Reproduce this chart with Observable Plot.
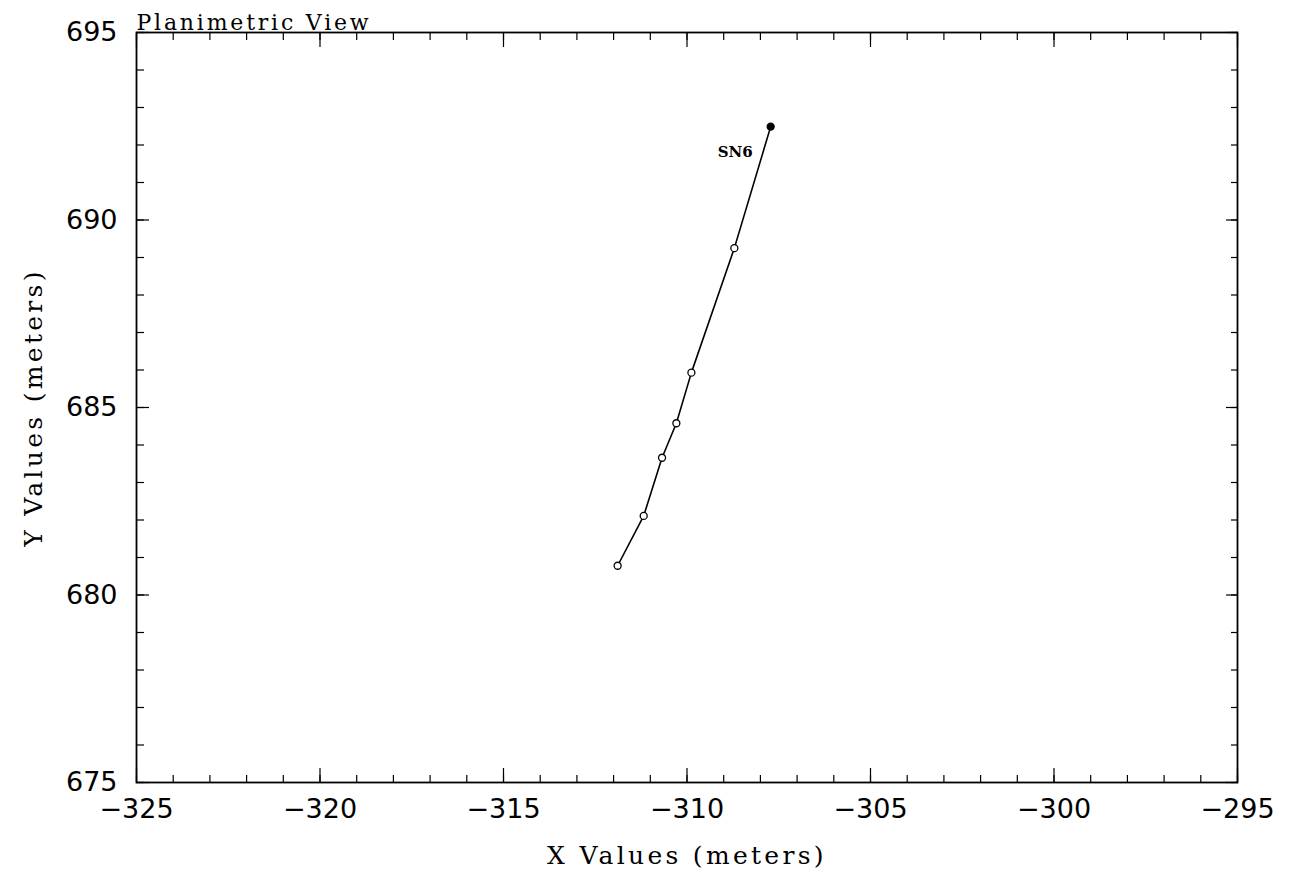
<!DOCTYPE html>
<html><head><meta charset="utf-8">
<script src="https://cdn.jsdelivr.net/npm/d3@7"></script>
<script src="https://cdn.jsdelivr.net/npm/@observablehq/plot@0.6"></script>
<style>body{margin:0;background:#fff;}</style>
</head><body><div id="chart"></div>
<script>
// Survey line SN6 (planimetric coordinates, meters)
const xValues = [-311.89, -311.18, -310.68, -310.29, -309.88, -308.71, -307.72];
const yValues = [680.78, 682.11, 683.66, 684.58, 685.93, 689.25, 692.49];
const markerFilled = [false, false, false, false, false, false, true];
const stationLabel = "SN6";

const xDomain = [-325, -295];
const yDomain = [675, 695];
const xMajorTicks = [-325, -320, -315, -310, -305, -300, -295];
const yMajorTicks = [675, 680, 685, 690, 695];
const xMinorTicks = d3.range(-325, -294, 1);
const yMinorTicks = d3.range(675, 696, 1);

const titleText = "Planimetric View";
const xLabel = "X Values (meters)";
const yLabel = "Y Values (meters)";

const pts = xValues.map((x, i) => ({x, y: yValues[i], filled: markerFilled[i]}));
const fmt = d => String(d).replace("-", "\u2212");
const tickFont = {fontSize: 27, fontFamily: "DejaVu Sans"};

const chart = Plot.plot({
  width: 1293, height: 890,
  marginLeft: 136, marginRight: 56, marginTop: 32, marginBottom: 108,
  x: {domain: xDomain},
  y: {domain: yDomain},
  style: {background: "#fff", color: "#000"},
  marks: [
    // minor ticks (inward)
    Plot.axisX({anchor: "bottom", ticks: xMinorTicks, tickSize: -7, tickFormat: () => "", label: null, strokeWidth: 1.2}),
    Plot.axisX({anchor: "top", ticks: xMinorTicks, tickSize: -7, tickFormat: () => "", label: null, strokeWidth: 1.2}),
    Plot.axisY({anchor: "left", ticks: yMinorTicks, tickSize: -8, tickFormat: () => "", label: null, strokeWidth: 1.2}),
    Plot.axisY({anchor: "right", ticks: yMinorTicks, tickSize: -7, tickFormat: () => "", label: null, strokeWidth: 1.2}),
    // major ticks (inward)
    Plot.axisX({anchor: "bottom", ticks: xMajorTicks, tickSize: -14, tickFormat: () => "", label: null, strokeWidth: 1.2}),
    Plot.axisX({anchor: "top", ticks: xMajorTicks, tickSize: -14, tickFormat: () => "", label: null, strokeWidth: 1.2}),
    Plot.axisY({anchor: "left", ticks: yMajorTicks, tickSize: -13, tickFormat: () => "", label: null, strokeWidth: 1.2}),
    Plot.axisY({anchor: "right", ticks: yMajorTicks, tickSize: -12, tickFormat: () => "", label: null, strokeWidth: 1.2}),
    // tick labels
    Plot.axisX({anchor: "bottom", ticks: xMajorTicks, tickSize: 0, tickPadding: 16, tickFormat: fmt, label: null, ...tickFont}),
    Plot.axisY({anchor: "left", ticks: yMajorTicks, tickSize: 0, tickPadding: 19, tickFormat: fmt, label: null, ...tickFont}),
    Plot.frame({stroke: "#000", strokeWidth: 1.8}),
    // axis titles and chart title
    Plot.text([xLabel], {text: d => d, frameAnchor: "bottom", dy: 73, textAnchor: "middle", fontSize: 25, fontFamily: "DejaVu Serif", lineAnchor: "middle"}),
    Plot.text([yLabel], {text: d => d, frameAnchor: "left", dx: -103, rotate: -90, textAnchor: "middle", fontSize: 25, fontFamily: "DejaVu Serif", lineAnchor: "middle"}),
    Plot.text([titleText], {text: d => d, frameAnchor: "top-left", dy: -3, textAnchor: "start", lineAnchor: "bottom", fontSize: 22, fontFamily: "DejaVu Serif"}),
    // data
    Plot.line(pts, {x: "x", y: "y", stroke: "#000", strokeWidth: 1.6}),
    Plot.dot(pts, {x: "x", y: "y", r: 3.5, stroke: "#000", strokeWidth: 1.3, fill: d => d.filled ? "#000" : "#fff"}),
    Plot.text(pts.filter(d => d.filled), {x: "x", y: "y", text: () => stationLabel, textAnchor: "end", dx: -18, dy: 26, fontSize: 15, fontWeight: "bold", fontFamily: "DejaVu Serif"})
  ]
});
// widen letter spacing of the titles to match the reference typeface
chart.querySelectorAll("text").forEach(t => {
  const s = t.textContent;
  if (s === xLabel || s === yLabel) t.setAttribute("letter-spacing", "3.3");
  else if (s === titleText) t.setAttribute("letter-spacing", "2.8");
});
document.getElementById("chart").appendChild(chart);
</script>
</body></html>
